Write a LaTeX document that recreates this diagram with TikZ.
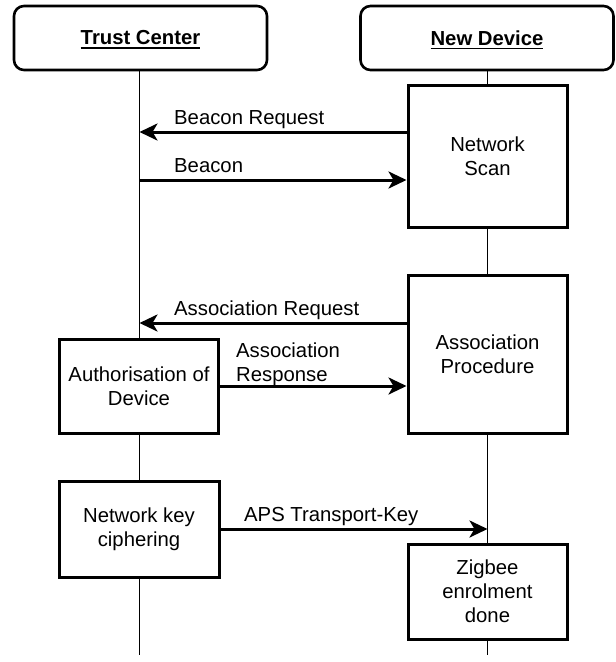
\documentclass[tikz,border=0pt]{standalone}
\usepackage{fontspec}
\setmainfont{Liberation Sans}
\usetikzlibrary{arrows.meta}
\newcommand\myul[1]{\setbox0\hbox{#1}\rlap{\smash{\raisebox{-3.8pt}{\rule{\wd0}{1.5pt}}}}\box0}
\begin{document}
\begin{tikzpicture}[x=1pt,y=-1pt,
  every node/.style={font=\fontsize{20.3}{23.8}\selectfont},
  hdr/.style={draw, line width=2.6pt, rounded corners=10pt, fill=white, minimum width=253pt, minimum height=64pt, inner sep=0pt},
  stepbox/.style={draw, line width=3pt, fill=white, align=center, inner sep=0pt},
  life/.style={line width=1.2pt},
  msg/.style={line width=3pt, -{Stealth[length=18pt,width=17pt,inset=5pt]}},
  lbl/.style={inner sep=0pt}]
\fill[white] (0,0) rectangle (616,662);
\useasboundingbox (0,0) rectangle (616,662);
% headers
\node[hdr] (tc) at (140.5,38) {\textbf{\myul{Trust Center}}};
\node[hdr] (nd) at (487,38) {\textbf{\myul{New Device}}};
% lifeline ends
\coordinate (tcend) at (139.5,655);
\coordinate (ndend) at (487.5,655);
\draw[life] (tc.south -| tcend) -- (tcend);
\draw[life] (nd.south -| ndend) -- (ndend);
% activity boxes
\node[stepbox, minimum width=159pt, minimum height=142pt] (scan) at (487.5,156) {Network\\Scan};
\node[stepbox, minimum width=159pt, minimum height=158pt] (assoc) at (487.5,354) {Association\\Procedure};
\node[stepbox, minimum width=159pt, minimum height=94pt] (auth) at (139,386) {Authorisation of\\Device};
\node[stepbox, minimum width=160pt, minimum height=96pt] (key) at (139,529) {Network key\\ciphering};
\node[stepbox, minimum width=159pt, minimum height=95pt] (zig) at (487.5,591.5) {Zigbee\\enrolment\\done};
% lifeline points
\coordinate (tc1) at (139.5,132);
\coordinate (tc2) at (139.5,180);
\coordinate (tc3) at (139.5,323);
\coordinate (nd1) at (487.5,529);
% messages
\draw[msg] (scan.west |- tc1) -- (tc1);
\draw[msg] (tc2) -- (scan.west |- tc2);
\draw[msg] (assoc.west |- tc3) -- (tc3);
\draw[msg] (auth.east) -- (assoc.west |- auth.east);
\draw[msg] (key.east) -- (nd1);
% labels
\node[lbl, anchor=base west] (l1) at (174,124) {Beacon Request};
\node[lbl, anchor=base west] (l2) at (174,172) {Beacon};
\node[lbl, anchor=base west] (l3) at (174,315) {Association Request};
\node[lbl, anchor=south west, align=left] (l4) at (236,385.5) {Association\\Response};
\node[lbl, anchor=base west] (l5) at (244,521) {APS Transport-Key};
\end{tikzpicture}
\end{document}
